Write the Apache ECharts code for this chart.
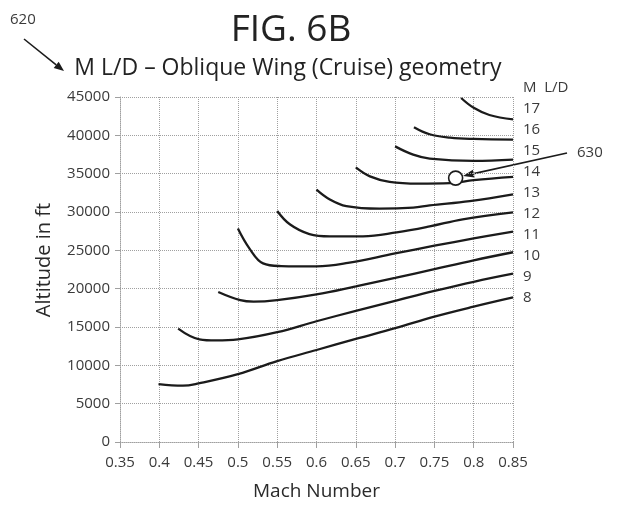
<!DOCTYPE html>
<html>
<head>
<meta charset="utf-8">
<script src="https://cdn.jsdelivr.net/npm/echarts@6/dist/echarts.min.js"></script>
<style>
  html, body { margin: 0; padding: 0; background: #fff; }
  #chart { width: 618px; height: 506px; }
</style>
</head>
<body>
<div id="chart"></div>
<script>
// Axis ranges and ticks
const machMin = 0.35, machMax = 0.85, machStep = 0.05;
const altMin = 0, altMax = 45000, altStep = 5000;

// M L/D contour levels, low to high
const ldLevels = [8, 9, 10, 11, 12, 13, 14, 15, 16, 17];

// Each contour: [Mach, altitude ft]
const ld8  = [[0.399, 7560], [0.430, 7350], [0.450, 7650], [0.500, 8850], [0.550, 10550], [0.600, 12000], [0.650, 13450], [0.700, 14850], [0.750, 16350], [0.800, 17650], [0.850, 18850]];
const ld9  = [[0.424, 14790], [0.451, 13400], [0.472, 13250], [0.500, 13380], [0.550, 14320], [0.600, 15750], [0.650, 17100], [0.700, 18400], [0.750, 19700], [0.800, 20900], [0.850, 21950]];
const ld10 = [[0.475, 19570], [0.503, 18500], [0.520, 18300], [0.550, 18500], [0.600, 19250], [0.650, 20300], [0.700, 21400], [0.750, 22550], [0.800, 23700], [0.850, 24750]];
const ld11 = [[0.500, 27850], [0.515, 25200], [0.532, 23300], [0.555, 22950], [0.600, 22900], [0.640, 23350], [0.700, 24600], [0.750, 25600], [0.800, 26550], [0.850, 27450]];
const ld12 = [[0.550, 30130], [0.566, 28400], [0.591, 27120], [0.617, 26820], [0.659, 26820], [0.702, 27330], [0.744, 28110], [0.786, 29050], [0.850, 29950]];
const ld13 = [[0.600, 32930], [0.617, 31640], [0.638, 30770], [0.680, 30440], [0.723, 30570], [0.744, 30860], [0.795, 31420], [0.850, 32300]];
const ld14 = [[0.650, 35820], [0.668, 34650], [0.693, 33930], [0.730, 33700], [0.770, 33760], [0.800, 34150], [0.850, 34570]];
const ld15 = [[0.700, 38560], [0.723, 37480], [0.744, 36970], [0.800, 36670], [0.850, 36840]];
const ld16 = [[0.724, 41060], [0.744, 40140], [0.770, 39700], [0.800, 39530], [0.850, 39440]];
const ld17 = [[0.784, 44870], [0.800, 43590], [0.820, 42650], [0.850, 42090]];
const contours = [ld8, ld9, ld10, ld11, ld12, ld13, ld14, ld15, ld16, ld17];

// Highlighted operating point (item 630)
const cruisePoint = [[0.777, 34420]];

// Texts
const figTitle = 'FIG. 6B';
const chartTitle = 'M L/D \u2013 Oblique Wing (Cruise) geometry';
const xName = 'Mach Number';
const yName = 'Altitude in ft';
const ldHeader = 'M  L/D';
const refChart = '620';
const refPoint = '630';

const FONT = '"Open Sans", "Noto Sans", sans-serif';
const INK = '#1b1b1b';
const TXT = '#3a3a3a';
const GRIDC = '#a0a0a0';

const chart = echarts.init(document.getElementById('chart'), null, { renderer: 'canvas' });

function fmtMach(v) { return String(parseFloat(v.toFixed(2))); }

// Arrow annotation (line + filled head)
function arrow(x1, y1, x2, y2, head) {
  const a = Math.atan2(y2 - y1, x2 - x1);
  const hl = head || 10, hw = 4;
  const bx = x2 - hl * Math.cos(a), by = y2 - hl * Math.sin(a);
  const px = -Math.sin(a) * hw, py = Math.cos(a) * hw;
  return [
    { type: 'line', shape: { x1: x1, y1: y1, x2: bx, y2: by }, style: { stroke: INK, lineWidth: 1.6 } },
    { type: 'polygon', shape: { points: [[x2, y2], [bx + px, by + py], [bx - px, by - py]] }, style: { fill: INK } }
  ];
}

const series = contours.map((pts, i) => ({
  type: 'line',
  name: 'L/D ' + ldLevels[i],
  data: pts,
  smooth: 0.4,
  symbol: 'none',
  silent: true,
  lineStyle: { color: INK, width: 2.3 },
  z: 3
}));

series.push({
  type: 'scatter',
  name: refPoint,
  data: cruisePoint,
  symbol: 'circle',
  symbolSize: 14,
  silent: true,
  itemStyle: { color: '#ffffff', opacity: 1, borderColor: INK, borderWidth: 1.6 },
  z: 5
});

// Right-hand column of L/D level labels
const labelTop = 111.7, labelStep = 20.9, labelX = 523;
const levelTexts = ldLevels.slice().reverse().map((v, i) => ({
  type: 'text', left: labelX, top: labelTop + i * labelStep - 10,
  style: { text: String(v), font: '15px ' + FONT, fill: TXT }
}));

const graphics = [
  { type: 'text', left: labelX, top: 80, style: { text: ldHeader, font: '15px ' + FONT, fill: TXT } },
  ...levelTexts,
  { type: 'text', left: 577, top: 145, style: { text: refPoint, font: '15px ' + FONT, fill: TXT } },
  ...arrow(567, 153, 463, 176, 11),
  { type: 'text', left: 10, top: 12, style: { text: refChart, font: '15px ' + FONT, fill: TXT } },
  ...arrow(24, 39, 64, 71, 10),
  { type: 'text', x: 44, y: 260, rotation: Math.PI / 2,
    style: { text: yName, font: '20px ' + FONT, fill: '#2a2a2a', align: 'center', verticalAlign: 'middle' } }
];

chart.setOption({
  animation: false,
  backgroundColor: '#ffffff',
  title: [
    { text: figTitle, left: 286, top: 7, textAlign: 'center',
      textStyle: { fontFamily: FONT, fontSize: 37, fontWeight: 'normal', color: '#222' } },
    { text: chartTitle, left: 283, top: 52, textAlign: 'center',
      textStyle: { fontFamily: FONT, fontSize: 23, fontWeight: 'normal', color: '#222' } }
  ],
  grid: { left: 120, right: 105, top: 97, bottom: 61 },
  xAxis: {
    type: 'value', min: machMin, max: machMax, interval: machStep,
    name: xName, nameLocation: 'middle', nameGap: 40,
    nameTextStyle: { fontFamily: FONT, fontSize: 19, color: '#2a2a2a' },
    axisLine: { show: true, lineStyle: { color: GRIDC, type: 'dotted', width: 1 } },
    axisTick: { show: true, length: 6, lineStyle: { color: GRIDC } },
    axisLabel: { fontFamily: FONT, fontSize: 15, color: TXT, margin: 13, formatter: fmtMach },
    splitLine: { show: true, lineStyle: { color: GRIDC, type: 'dotted', width: 1 } }
  },
  yAxis: {
    type: 'value', min: altMin, max: altMax, interval: altStep,
    axisLine: { show: true, lineStyle: { color: GRIDC, type: 'dotted', width: 1 } },
    axisTick: { show: true, length: 5, lineStyle: { color: GRIDC } },
    axisLabel: { fontFamily: FONT, fontSize: 15, color: TXT, margin: 10, formatter: v => String(v) },
    splitLine: { show: true, lineStyle: { color: GRIDC, type: 'dotted', width: 1 } }
  },
  graphic: graphics,
  series: series
});
</script>
</body>
</html>
